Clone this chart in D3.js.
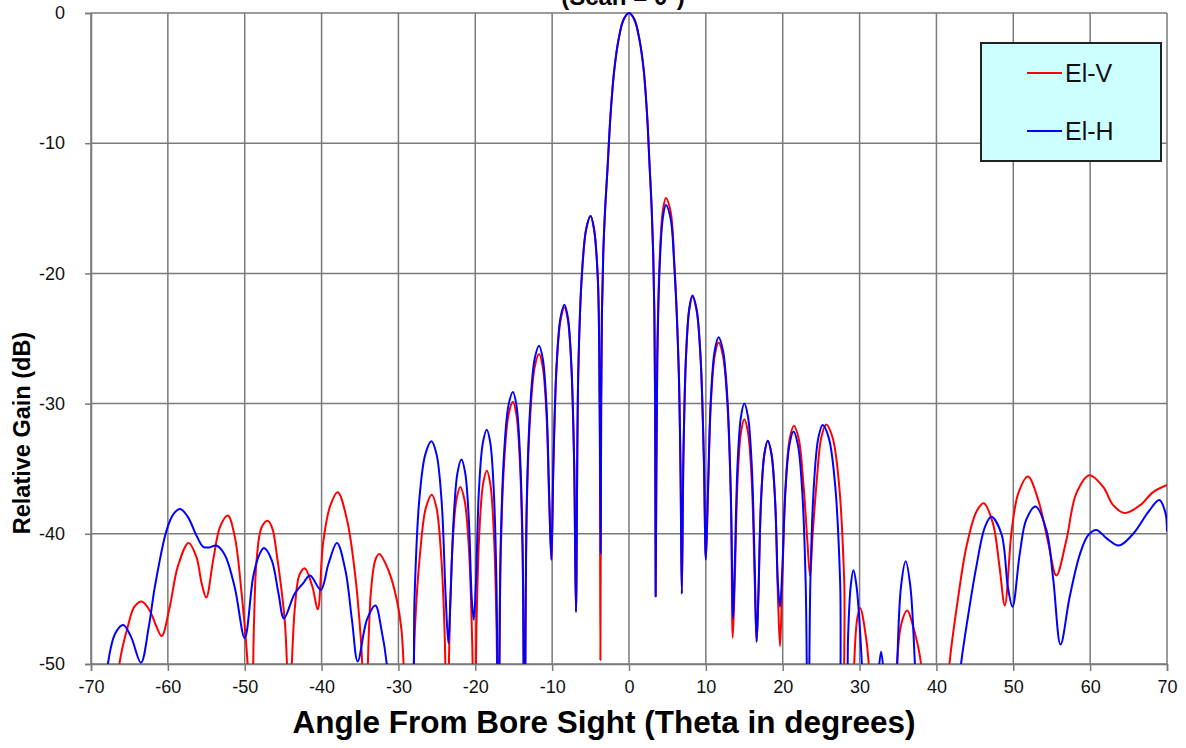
<!DOCTYPE html>
<html>
<head>
<meta charset="utf-8">
<script src="https://cdn.jsdelivr.net/npm/d3@7"></script>
<style>
  body { margin: 0; background: #fff; }
  text { font-family: "Liberation Sans", Arial, sans-serif; }
</style>
</head>
<body>
<div id="chart"></div>
<script>
// Data: [angle (deg), relative gain (dB)]
// values below -50 are nulls that run off the bottom of the plot
const elV = [
  [-66.8,-56],[-66.3,-50],[-65.2,-47.1],[-64.35,-45.6],[-63.4,-45.2],[-62.4,-45.85],[-61.5,-47.1],[-60.8,-47.85],
  [-59.75,-45.6],[-58.7,-42.5],[-57.3,-40.7],[-56.3,-41.75],[-55.6,-43.8],[-55.0,-44.9],[-54.1,-42.0],[-53.2,-39.45],
  [-52.2,-38.6],[-51.3,-40.2],[-50.4,-44.6],[-49.8,-48.5],[-49.1,-54],[-48.8,-47],[-48.45,-42.0],[-47.8,-39.5],
  [-47.0,-39.0],[-46.4,-39.6],[-45.85,-41.5],[-44.8,-46.6],[-44.2,-53],[-43.5,-45.85],[-42.9,-43.2],[-42.2,-42.65],
  [-41.2,-44.05],[-40.5,-45.8],[-39.8,-40.7],[-38.9,-37.9],[-37.9,-36.8],[-36.7,-38.9],[-35.6,-43.3],[-34.9,-48],
  [-34.3,-54],[-33.6,-44.6],[-33.0,-42],[-32.5,-41.55],[-31.3,-42.8],[-30.2,-45.1],[-29.6,-47.4],[-29.0,-55],[-28.6,-60],
  [-28.25,-55],[-27.83,-47],[-27.2,-41.6],[-26.43,-38],[-25.65,-37.0],[-25.05,-38],[-24.45,-41.6],[-23.97,-48],[-23.65,-60],
  [-23.38,-48.4],[-22.97,-41],[-22.46,-37.4],[-21.95,-36.4],[-21.4,-37.4],[-20.84,-41],[-20.4,-48.4],[-20.1,-60],
  [-19.84,-47],[-19.46,-39.75],[-18.98,-36.15],[-18.5,-35.15],[-18.05,-36.15],[-17.6,-39.75],[-17.24,-47],[-17.0,-60],
  [-16.7,-41.85],[-16.24,-34.45],[-15.67,-30.85],[-15.1,-29.85],[-14.65,-30.85],[-14.2,-34.45],[-13.84,-41.85],[-13.6,-60],
  [-13.3,-38],[-12.84,-30.8],[-12.27,-27.2],[-11.7,-26.2],[-11.22,-27.2],[-10.74,-30.8],[-10.36,-38],[-10.1,-42],
  [-9.83,-34.6],[-9.42,-27.2],[-8.91,-23.6],[-8.4,-22.6],[-7.95,-23.6],[-7.5,-27.2],[-7.14,-34.6],[-6.9,-46],
  [-6.6,-27.6],[-6.14,-20.2],[-5.57,-16.6],[-5.0,-15.6],[-4.55,-16.6],[-4.05,-20.5],[-3.82,-30],[-3.72,-49.7],
  [-3.62,-30],[-3.52,-23],[-3.35,-18.5],[-3.1,-15],[-2.8,-12],[-2.4,-7.8],[-1.9,-4.3],[-1.33,-1.95],[-0.7,-0.5],[0,0],
  [0.7,-0.5],[1.33,-1.95],[1.9,-4.3],[2.35,-7.8],[2.7,-12],[2.95,-15],[3.15,-18.5],[3.3,-23],[3.4,-30],[3.47,-44.8],
  [3.68,-26.2],[4.0,-18.8],[4.4,-15.2],[4.8,-14.2],[5.4,-15.2],[5.9,-19.2],[6.45,-27],[6.7,-35],[6.87,-44.6],
  [7.09,-33.8],[7.42,-26.4],[7.84,-22.8],[8.25,-21.8],[8.78,-22.8],[9.3,-26.4],[9.72,-33.8],[10.0,-41.9],
  [10.26,-37.3],[10.66,-29.9],[11.16,-26.3],[11.65,-25.3],[12.22,-26.3],[12.79,-29.9],[13.25,-37.3],[13.5,-48.0],
  [13.78,-43.2],[14.13,-35.8],[14.57,-32.2],[15.0,-31.2],[15.48,-32.2],[15.96,-35.8],[16.34,-43.2],[16.6,-48.3],
  [16.83,-44.85],[17.18,-37.45],[17.62,-33.85],[18.05,-32.85],[18.53,-33.85],[19.01,-37.45],[19.39,-45],[19.65,-48.65],
  [19.94,-43.7],[20.37,-36.3],[20.91,-32.7],[21.45,-31.7],[22.08,-32.7],[22.71,-36.3],[23.2,-40.5],[23.55,-43.2],
  [23.9,-40],[24.39,-36.2],[25.02,-32.6],[25.65,-31.6],[26.49,-32.6],[27.33,-36.2],[28.0,-43.6],[28.45,-60],
  [28.9,-60],[29.3,-50],[29.7,-46.5],[30.1,-45.7],[30.6,-47],[31.2,-50],[31.6,-60],[33.0,-64],
  [34.4,-60],[34.7,-52],[35.4,-47],[36.2,-45.9],[37.0,-47.2],[38.0,-50],[38.6,-60],[40.0,-64],
  [41.4,-53],[41.7,-50],[42.8,-45],[43.9,-41.0],[45.2,-38.3],[46.15,-37.65],[47.35,-39.2],[48.2,-42.5],
  [48.9,-45.5],[49.8,-39.7],[50.65,-36.9],[51.9,-35.6],[53.25,-37.4],[54.55,-40.7],[55.6,-43.2],[56.9,-40.5],
  [58.2,-36.9],[59.9,-35.5],[61.7,-36.4],[63.0,-37.8],[64.5,-38.4],[66.5,-37.8],[68.2,-36.8],[70,-36.25]
]

const elH = [
  [-68.4,-56],[-67.8,-50],[-66.8,-47.6],[-65.8,-47.0],[-64.8,-47.9],[-63.5,-49.9],[-62.5,-47.2],[-61.7,-44.1],
  [-60.2,-39.8],[-59.3,-38.5],[-58.4,-38.1],[-57.4,-38.7],[-56.3,-40.1],[-55.4,-41.0],[-54.6,-41.05],[-53.7,-40.9],
  [-52.6,-41.6],[-51.3,-44.1],[-50.0,-48.0],[-48.9,-43.3],[-48.2,-41.75],[-47.5,-41.1],[-46.5,-42.0],[-45.6,-44.6],
  [-44.9,-46.5],[-43.5,-44.6],[-42.4,-43.8],[-41.5,-43.2],[-40.1,-44.3],[-39.1,-42.3],[-38.0,-40.7],[-36.9,-42.8],
  [-36.05,-46.6],[-35.3,-49.8],[-34.1,-46.6],[-33.0,-45.5],[-32.2,-47.4],[-31.5,-50.1],[-31.0,-56],[-29.8,-64],
  [-28.35,-60],[-27.9,-44.9],[-27.3,-37.5],[-26.5,-33.9],[-25.7,-32.9],[-25.04,-33.9],[-24.38,-37.5],[-23.85,-44.9],[-23.5,-48.4],
  [-23.23,-45],[-22.82,-38.9],[-22.31,-35.3],[-21.8,-34.3],[-21.32,-35.3],[-20.84,-38.9],[-20.46,-45],[-20.2,-46.6],
  [-19.93,-44],[-19.52,-36.6],[-19.01,-33],[-18.5,-32.0],[-18.05,-33],[-17.6,-36.6],[-17.24,-44],[-17.0,-60],
  [-16.7,-41],[-16.24,-33.7],[-15.67,-30.1],[-15.1,-29.1],[-14.65,-30.1],[-14.2,-33.7],[-13.84,-41],[-13.6,-60],
  [-13.3,-37.5],[-12.84,-30.15],[-12.27,-26.55],[-11.7,-25.55],[-11.22,-26.55],[-10.74,-30.15],[-10.36,-37.5],[-10.1,-42],
  [-9.83,-34.4],[-9.42,-27],[-8.91,-23.4],[-8.4,-22.4],[-7.95,-23.4],[-7.5,-27],[-7.14,-34.4],[-6.9,-46],
  [-6.6,-27.6],[-6.14,-20.2],[-5.57,-16.6],[-5.0,-15.6],[-4.55,-16.6],[-4.05,-20.5],[-3.82,-30],[-3.68,-41.5],
  [-3.62,-30],[-3.52,-23],[-3.35,-18.5],[-3.1,-15],[-2.8,-12],[-2.4,-7.8],[-1.9,-4.3],[-1.33,-1.95],[-0.7,-0.5],[0,0],
  [0.7,-0.5],[1.33,-1.95],[1.9,-4.3],[2.35,-7.8],[2.7,-12],[2.95,-15],[3.15,-18.5],[3.3,-23],[3.4,-30],[3.47,-44.8],
  [3.68,-26.75],[4.0,-19.35],[4.4,-15.75],[4.8,-14.75],[5.4,-15.75],[5.9,-19.5],[6.45,-27],[6.7,-35],[6.87,-44.6],
  [7.09,-33.7],[7.42,-26.3],[7.84,-22.7],[8.25,-21.7],[8.78,-22.7],[9.3,-26.3],[9.72,-33.7],[10.0,-42.0],
  [10.26,-36.9],[10.66,-29.5],[11.16,-25.9],[11.65,-24.9],[12.22,-25.9],[12.79,-29.5],[13.25,-36.9],[13.55,-46.5],
  [13.78,-42],[14.13,-34.6],[14.57,-31],[15.0,-30.0],[15.48,-31],[15.96,-34.6],[16.34,-42],[16.6,-48.3],
  [16.83,-44.85],[17.18,-37.45],[17.62,-33.85],[18.05,-32.85],[18.53,-33.85],[19.01,-37.45],[19.39,-44],[19.65,-45.6],
  [19.93,-43],[20.35,-36.75],[20.88,-33.15],[21.4,-32.15],[21.97,-33.15],[22.54,-36.75],[23.0,-44.15],[23.3,-60],
  [23.6,-43.65],[24.06,-36.25],[24.63,-32.65],[25.2,-31.65],[26.0,-32.65],[26.82,-36.25],[27.47,-43.65],[27.9,-60],
  [28.1,-60],[28.5,-48],[28.85,-44],[29.2,-42.8],[29.6,-44],[30.3,-50],[30.9,-60],[31.5,-62],
  [32.2,-56],[32.5,-50.5],[32.8,-49.05],[33.1,-50.5],[33.4,-56],[34.0,-62],
  [34.5,-60],[34.9,-50],[35.4,-44],[36.0,-42.1],[36.6,-44],[37.2,-50],[37.9,-60],[40.5,-64],
  [42.9,-52],[43.2,-50],[44.2,-46],[45.2,-42.5],[46.3,-39.5],[47.15,-38.7],[48.45,-40.0],[49.3,-44.1],
  [49.9,-45.6],[50.85,-41.5],[51.7,-38.9],[52.9,-37.9],[54.3,-39.7],[55.2,-43.5],[56.15,-48.5],[57.35,-44.8],
  [58.7,-41.5],[59.75,-40.1],[60.8,-39.7],[62.15,-40.35],[63.75,-40.9],[65.6,-40.0],[67.6,-38.3],[69.0,-37.4],
  [69.8,-38.4],[70,-39.8]
]

const xTicks = [-70,-60,-50,-40,-30,-20,-10,0,10,20,30,40,50,60,70]
const yTicks = [0,-10,-20,-30,-40,-50]
const seriesNames = ["El-V", "El-H"]
const seriesColors = ["#ff0000", "#0000ff"]

const W = 1186, H = 748
const plotLeft = 91, plotRight = 1167, plotTop = 13, plotBottom = 664

const svg = d3.select("#chart").append("svg")
  .attr("width", W)
  .attr("height", H)

svg.append("rect").attr("width", W).attr("height", H).attr("fill", "#fff")

const x = d3.scaleLinear().domain([-70, 70]).range([plotLeft, plotRight])
const y = d3.scaleLinear().domain([-50, 0]).range([plotBottom, plotTop])

// title, cut off at the top edge like in the source image
svg.append("text")
  .attr("x", x(0) - 6)
  .attr("y", 5)
  .attr("text-anchor", "middle")
  .attr("font-size", 24)
  .attr("font-weight", "bold")
  .text("(Scan = 0°)")

// grid
const grid = svg.append("g").attr("stroke", "#7a7a7a").attr("stroke-width", 1.5)
grid.selectAll(".vg").data(xTicks).enter().append("line")
  .attr("x1", d => x(d)).attr("x2", d => x(d))
  .attr("y1", plotTop).attr("y2", plotBottom)
grid.selectAll(".hg").data(yTicks).enter().append("line")
  .attr("x1", plotLeft).attr("x2", plotRight)
  .attr("y1", d => y(d)).attr("y2", d => y(d))

// axes
const fmt = d => String(d)
const xAxis = svg.append("g")
  .attr("transform", "translate(0," + plotBottom + ")")
  .call(d3.axisBottom(x).tickValues(xTicks).tickSize(7).tickPadding(9).tickFormat(fmt))
const yAxis = svg.append("g")
  .attr("transform", "translate(" + plotLeft + ",0)")
  .call(d3.axisLeft(y).tickValues(yTicks).tickSize(6).tickPadding(20).tickFormat(fmt))

for (const a of [xAxis, yAxis]) {
  a.select(".domain").attr("stroke", "#7a7a7a").attr("stroke-width", 1.5)
  a.selectAll(".tick line").attr("stroke", "#7a7a7a").attr("stroke-width", 1.5)
  a.selectAll(".tick text")
    .attr("fill", "#111")
    .style("font-family", '"Liberation Sans", Arial, sans-serif')
    .style("font-size", "18px")
  a.attr("font-family", null).attr("font-size", null)
}

// axis titles
svg.append("text")
  .attr("x", 604)
  .attr("y", 733)
  .attr("text-anchor", "middle")
  .attr("font-size", 31.5)
  .attr("font-weight", "bold")
  .text("Angle From Bore Sight (Theta in degrees)")

svg.append("text")
  .attr("transform", "translate(30,433) rotate(-90)")
  .attr("text-anchor", "middle")
  .attr("font-size", 23.5)
  .attr("font-weight", "bold")
  .text("Relative Gain (dB)")

// curves
svg.append("clipPath").attr("id", "plotclip")
  .append("rect")
  .attr("x", plotLeft).attr("y", plotTop - 6)
  .attr("width", plotRight - plotLeft).attr("height", plotBottom - plotTop + 6)

const line = d3.line()
  .x(d => x(d[0]))
  .y(d => y(d[1]))
  .curve(d3.curveCatmullRom.alpha(0.5))

const plot = svg.append("g").attr("clip-path", "url(#plotclip)")
const allSeries = [elV, elH]
allSeries.forEach((s, i) => {
  plot.append("path")
    .datum(s)
    .attr("fill", "none")
    .attr("stroke", seriesColors[i])
    .attr("stroke-width", 2)
    .attr("stroke-linejoin", "round")
    .attr("d", line)
})

// legend
const legend = svg.append("g")
legend.append("rect")
  .attr("x", 981).attr("y", 43)
  .attr("width", 180).attr("height", 118)
  .attr("fill", "#ccffff")
  .attr("stroke", "#222")
  .attr("stroke-width", 2)
seriesNames.forEach((name, i) => {
  const ly = 73 + i * 58
  legend.append("line")
    .attr("x1", 1027).attr("x2", 1062)
    .attr("y1", ly).attr("y2", ly)
    .attr("stroke", seriesColors[i])
    .attr("stroke-width", 2)
  legend.append("text")
    .attr("x", 1065).attr("y", ly)
    .attr("dy", "0.36em")
    .attr("font-size", 25)
    .attr("fill", "#111")
    .text(name)
})
</script>
</body>
</html>
